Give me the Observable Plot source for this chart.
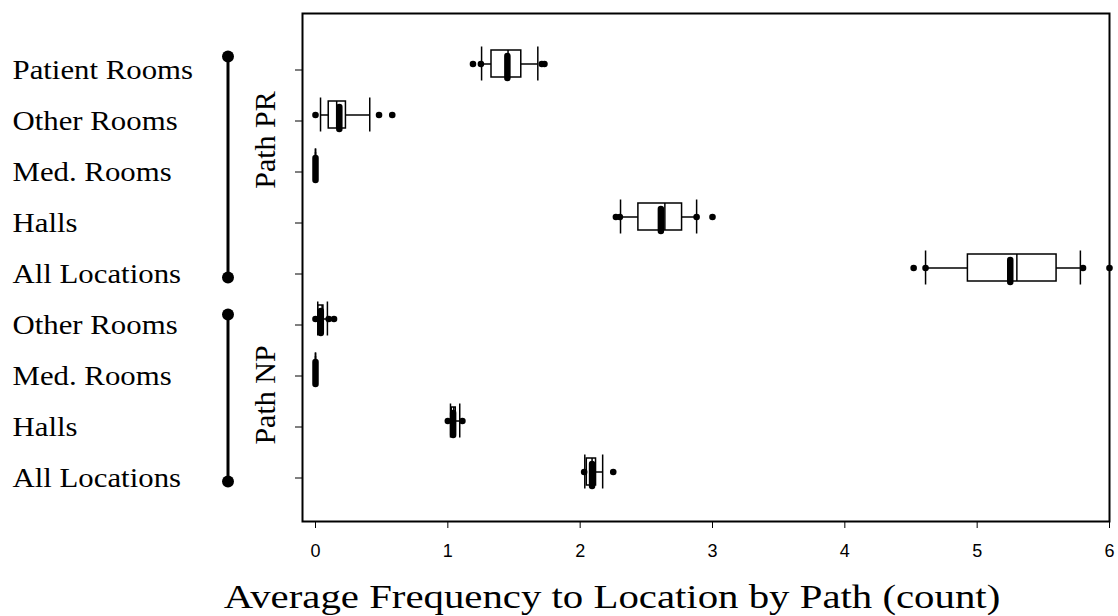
<!DOCTYPE html>
<html>
<head>
<meta charset="utf-8">
<script src="https://cdn.jsdelivr.net/npm/d3@7"></script>
<script src="https://cdn.jsdelivr.net/npm/@observablehq/plot@0.6"></script>
<style>
  html, body { margin: 0; padding: 0; background: #fff; }
  #chart svg { display: block; }
</style>
</head>
<body>
<div id="chart"></div>
<script>
// ---- data ----
const rowKeys = ["PR|Patient Rooms", "PR|Other Rooms", "PR|Med. Rooms", "PR|Halls", "PR|All Locations",
                 "NP|Other Rooms", "NP|Med. Rooms", "NP|Halls", "NP|All Locations"];
const rowLabels = ["Patient Rooms", "Other Rooms", "Med. Rooms", "Halls", "All Locations",
                   "Other Rooms", "Med. Rooms", "Halls", "All Locations"];
const groupNames = ["Path PR", "Path NP"];
const groupRows = [["PR|Patient Rooms", "PR|All Locations"], ["NP|Other Rooms", "NP|All Locations"]];
const groupLabelRows = [["PR|Other Rooms", "PR|Med. Rooms"], ["NP|Med. Rooms", "NP|Halls"]];

const whiskerLow  = [1.255, 0.038, 0, 2.305, 4.61, 0.017, 0, 1.02, 2.035];
const q1          = [1.33,  0.10,  0, 2.44,  4.93, 0.022, 0, 1.03, 2.05];
const median      = [1.455, 0.16,  0, 2.64,  5.30, 0.05,  0, 1.045, 2.09];
const q3          = [1.555, 0.23,  0, 2.77,  5.60, 0.06,  0, 1.06, 2.12];
const whiskerHigh = [1.68,  0.41,  0, 2.88,  5.78, 0.09,  0, 1.09, 2.17];
const means       = [1.45,  0.18,  0, 2.61,  5.25, 0.04,  0, 1.04, 2.09];
const outliers = [
  [1.19, 1.25, 1.71, 1.73],
  [0.0, 0.48, 0.58],
  [],
  [2.27, 2.30, 2.88, 3.0],
  [4.52, 4.61, 5.80, 6.0],
  [0.0, 0.10, 0.14],
  [],
  [1.0, 1.11],
  [2.03, 2.25]
];
const xTicks = [0, 1, 2, 3, 4, 5, 6];
const xTitle = "Average Frequency to Location by Path (count)";

// ---- derived tables ----
const stats = rowKeys.map((k, i) => ({
  key: k, lo: whiskerLow[i], q1: q1[i], med: median[i], q3: q3[i], hi: whiskerHigh[i], mean: means[i]
}));
const pts = rowKeys.flatMap((k, i) => outliers[i].map(v => ({key: k, v})));
const labelOf = Object.fromEntries(rowKeys.map((k, i) => [k, rowLabels[i]]));

const SERIF = "'Liberation Serif', 'Times New Roman', serif";
const SANS = "'Liberation Sans', Arial, sans-serif";

const chart = Plot.plot({
  width: 1118,
  height: 616,
  marginLeft: 302,
  marginRight: 9,
  marginTop: 13,
  marginBottom: 95,
  style: {background: "#fff", color: "#000"},
  x: {domain: [0, 6], insetLeft: 13},
  y: {domain: rowKeys, paddingInner: 0.473, paddingOuter: 0.6975},
  marks: [
    Plot.frame({stroke: "#000", strokeWidth: 2}),
    Plot.axisY({
      tickSize: 7, tickPadding: 283, textAnchor: "start", dy: 6,
      tickFormat: d => labelOf[d], fontSize: 28, fontFamily: SERIF, label: null
    }),
    Plot.axisX({
      ticks: xTicks, tickSize: 7, tickPadding: 16, tickFormat: d => String(d),
      fontSize: 18, fontFamily: SANS, label: null
    }),
    // whisker line
    Plot.ruleY(stats, {y: "key", x1: "lo", x2: "hi", stroke: "#000", strokeWidth: 1.5}),
    // whisker caps
    Plot.tickX(stats, {y: "key", x: "lo", stroke: "#000", strokeWidth: 1.5, insetTop: -3.5, insetBottom: -3.5}),
    Plot.tickX(stats, {y: "key", x: "hi", stroke: "#000", strokeWidth: 1.5, insetTop: -3.5, insetBottom: -3.5}),
    // box
    Plot.barX(stats, {y: "key", x1: "q1", x2: "q3", fill: "#fff", stroke: "#000", strokeWidth: 1.5}),
    // median
    Plot.tickX(stats, {y: "key", x: "med", stroke: "#000", strokeWidth: 1.5}),
    // mean (thick)
    Plot.tickX(stats, {y: "key", x: "mean", stroke: "#000", strokeWidth: 6.5, strokeLinecap: "round",
                       insetTop: 4, insetBottom: 1, dy: 2}),
    // outliers
    Plot.dot(pts, {y: "key", x: "v", r: 3.3, fill: "#000", stroke: "none"}),
    // x title
    Plot.text([xTitle], {frameAnchor: "bottom", text: d => d, dx: -94, dy: 76,
                         fontSize: 34, fontFamily: SERIF, fill: "#000", lineAnchor: "middle"})
  ]
});

document.getElementById("chart").appendChild(chart);

const svg = d3.select(chart);
// widen serif labels slightly, as in the reference
function stretch(sel, f) {
  sel.each(function() {
    const L = this.getComputedTextLength();
    d3.select(this).attr("textLength", L * f).attr("lengthAdjust", "spacingAndGlyphs");
  });
}
stretch(svg.selectAll('g[aria-label="y-axis tick label"] text'), 1.1);
stretch(svg.selectAll('g[aria-label="text"] text'), 1.2);

// ---- group brackets, positioned with the plot's own y scale ----
const ys = chart.scale("y");
const yc = k => ys.apply(k) + ys.bandwidth / 2;
const g = svg.append("g");
groupNames.forEach((name, gi) => {
  const [a, b] = groupRows[gi];
  const y1 = yc(a) - (gi === 0 ? 7 : 4);
  const y2 = yc(b) + 10;
  const bx = 302 - 74;
  g.append("line").attr("x1", bx).attr("x2", bx).attr("y1", y1).attr("y2", y2)
    .attr("stroke", "#000").attr("stroke-width", 3);
  g.append("circle").attr("cx", bx).attr("cy", y1).attr("r", 6).attr("fill", "#000");
  g.append("circle").attr("cx", bx).attr("cy", y2).attr("r", 6).attr("fill", "#000");
  const [la, lb] = groupLabelRows[gi];
  const ly = (yc(la) + yc(lb)) / 2;
  const lx = 302 - 38;
  g.append("text").attr("transform", `translate(${lx},${ly}) rotate(-90)`)
    .attr("text-anchor", "middle").attr("dominant-baseline", "central")
    .attr("font-family", SERIF).attr("font-size", 30).attr("fill", "#000")
    .text(name);
});
</script>
</body>
</html>
